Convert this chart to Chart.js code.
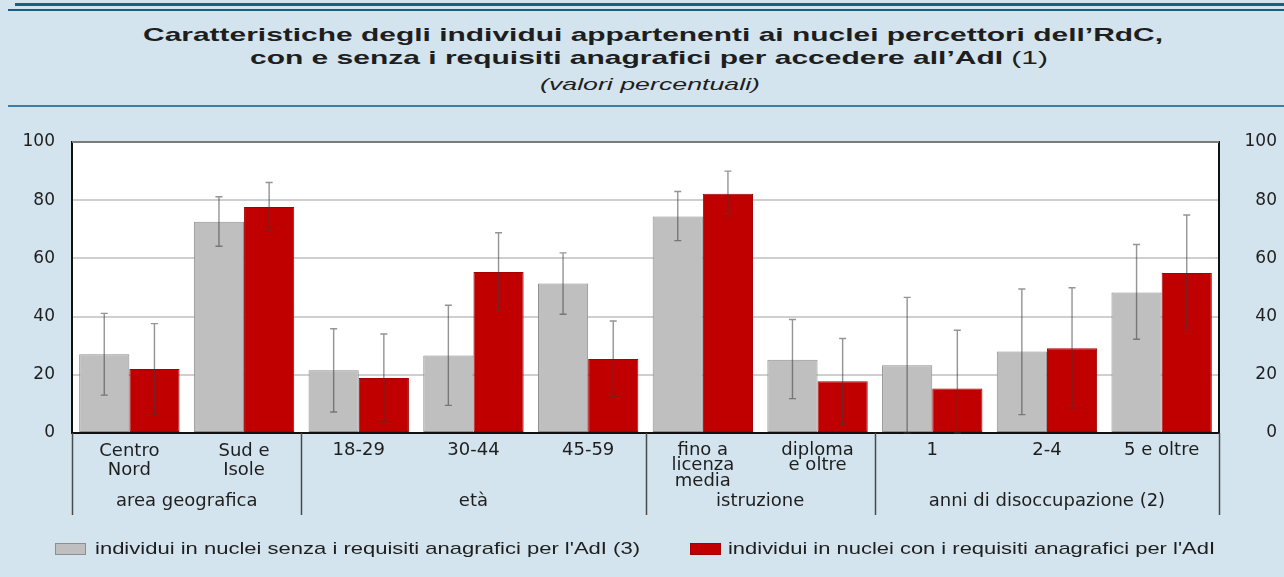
<!DOCTYPE html>
<html><head><meta charset="utf-8">
<script src="https://cdn.jsdelivr.net/npm/chart.js@4.4.1/dist/chart.umd.min.js"></script>
<style>
html,body{margin:0;padding:0;background:#d3e4ee;width:1284px;height:577px;overflow:hidden;font-family:"Liberation Sans",Arial,sans-serif;color:#1e1e1e}
#wrap{position:relative;width:1284px;height:577px}
.rule{position:absolute;right:0}
.fit{position:absolute;white-space:nowrap;transform-origin:0 0}
canvas{position:absolute;left:0;top:0}
.box{position:absolute;top:543px;width:29px;height:10px}
</style></head>
<body><div id="wrap">
<div class="rule" style="left:15px;top:3px;height:3px;background:#1b5e84"></div>
<div class="rule" style="left:8px;top:9px;height:2px;background:#1b5e84"></div>
<div class="rule" style="left:8px;top:105px;height:2px;background:#3c7fa2"></div>
<div class="fit" data-left="143" data-w="1020" style="top:24px;font-size:19px;line-height:22px;font-weight:bold">Caratteristiche degli individui appartenenti ai nuclei percettori dell’RdC,</div>
<div class="fit" data-left="250" data-w="798" style="top:47px;font-size:19px;line-height:22px"><b>con e senza i requisiti anagrafici per accedere all’AdI</b> (1)</div>
<div class="fit" data-left="540" data-w="220" style="top:75px;font-size:17px;line-height:20px;font-style:italic">(valori percentuali)</div>
<canvas id="c" width="1284" height="577"></canvas>
<div class="box" id="b0" style="left:55px"></div><div class="fit" id="l0" data-left="95" data-w="545" style="top:539px;font-size:17px;line-height:19px"></div>
<div class="box" id="b1" style="left:690px"></div><div class="fit" id="l1" data-left="728" data-w="487" style="top:539px;font-size:17px;line-height:19px"></div>
</div>
<script>
const categories = [["Centro","Nord"],["Sud e","Isole"],"18-29","30-44","45-59",["fino a","licenza","media"],["diploma","e oltre"],"1","2-4","5 e oltre"];
const groupLabels = ["area geografica","età","istruzione","anni di disoccupazione (2)"];
const groupSizes = [2,3,2,3];
const seriesNames = ["individui in nuclei senza i requisiti anagrafici per l'AdI (3)","individui in nuclei con i requisiti anagrafici per l'AdI"];
const withoutReq     = [27.1,72.6,21.6,26.6,51.4,74.4,25.2,23.3,28.0,48.3];
const withoutReqLow  = [13.0,64.2, 7.2, 9.5,40.8,66.1,11.8, 0.0, 6.3,32.2];
const withoutReqHigh = [41.1,81.2,35.8,43.9,61.9,83.0,39.0,46.6,49.5,64.8];
const withReq        = [22.0,77.7,18.9,55.3,25.4,82.2,17.8,15.3,29.1,55.0];
const withReqLow     = [ 6.3,69.4, 3.8,41.8,12.5,74.7, 2.9, 0.0, 8.7,35.6];
const withReqHigh    = [37.6,86.1,34.0,68.8,38.5,90.0,32.5,35.3,49.9,74.9];
const yTicks = [0,20,40,60,80,100];

const GREY='#bfbfbf', GREY_B='#8e8e8e', RED='#c00000', RED_B='#a30000';
const FAM = '"DejaVu Sans", sans-serif';
const TXT = '#1e1e1e';

const lowHigh = [[withoutReqLow,withoutReqHigh],[withReqLow,withReqHigh]];

const plotBg = {id:'plotBg', beforeDraw(ch){const a=ch.chartArea,c=ch.ctx;c.save();c.fillStyle='#fff';c.fillRect(a.left,a.top,a.right-a.left,a.bottom-a.top);c.restore();}};
const errBars = {id:'errBars', afterDatasetsDraw(ch){
  const c=ch.ctx, y=ch.scales.y;
  c.save(); c.strokeStyle='rgba(60,60,60,0.55)'; c.lineWidth=1.4;
  ch.data.datasets.forEach((ds,i)=>{
    const meta=ch.getDatasetMeta(i); const [lo,hi]=lowHigh[i];
    meta.data.forEach((bar,j)=>{
      const x=bar.x, y1=y.getPixelForValue(hi[j]), y0=y.getPixelForValue(lo[j]);
      c.beginPath(); c.moveTo(x,y1); c.lineTo(x,y0);
      c.moveTo(x-3.5,y1); c.lineTo(x+3.5,y1);
      c.moveTo(x-3.5,y0); c.lineTo(x+3.5,y0); c.stroke();
    });
  });
  c.restore();
}};
const frame = {id:'frame', afterDraw(ch){
  const c=ch.ctx,a=ch.chartArea,xs=ch.scales.x;
  c.save();
  c.strokeStyle='#7a7a7a'; c.lineWidth=2; c.beginPath(); c.moveTo(a.left,a.top); c.lineTo(a.right,a.top); c.stroke();
  const bounds=[a.left]; let k=0;
  groupSizes.forEach(n=>{k+=n; if(k<categories.length){bounds.push((xs.getPixelForValue(k-1)+xs.getPixelForValue(k))/2);} else bounds.push(a.right);});
  c.strokeStyle='#4a4a4a'; c.lineWidth=1.5;
  bounds.forEach(b=>{const bx=Math.round(b)+0.5; c.beginPath(); c.moveTo(bx,a.bottom); c.lineTo(bx,a.bottom+82); c.stroke();});
  c.fillStyle=TXT; c.font='18px '+FAM; c.textAlign='center'; c.textBaseline='middle';
  groupLabels.forEach((g,i)=>{c.fillText(g,(bounds[i]+bounds[i+1])/2,a.bottom+68);});
  c.restore();
}};

new Chart(document.getElementById('c'),{
  type:'bar',
  data:{labels:categories, datasets:[
    {label:seriesNames[0], data:withoutReq, backgroundColor:GREY, borderColor:GREY_B, borderWidth:1, borderSkipped:false, barPercentage:1, categoryPercentage:0.875},
    {label:seriesNames[1], data:withReq, backgroundColor:RED, borderColor:RED_B, borderWidth:1, borderSkipped:false, barPercentage:1, categoryPercentage:0.875}
  ]},
  options:{
    responsive:false, animation:false, devicePixelRatio:1,
    layout:{padding:{left:0,right:7,top:142,bottom:0}},
    plugins:{legend:{display:false},title:{display:false},tooltip:{enabled:false}},
    scales:{
      x:{grid:{display:false,drawTicks:false}, border:{display:true,color:'#111',width:2},
         ticks:{font:(ctx)=>({family:FAM,size:18,lineHeight:(ctx.index<2?1.05:0.87)}),color:TXT,padding:9,maxRotation:0,autoSkip:false},
         afterFit(s){s.height=144;}},
      y:{position:'left',min:0,max:100,afterBuildTicks(s){s.ticks=yTicks.map(v=>({value:v}));},
         grid:{drawTicks:false,lineWidth:2,color:(ctx)=>(ctx.tick&&(ctx.tick.value===0||ctx.tick.value===100))?'rgba(0,0,0,0)':'#cfcfcf'},
         border:{display:true,color:'#111',width:2},
         ticks:{font:{family:FAM,size:17},color:TXT,padding:17},
         afterFit(s){s.width=72;}},
      y2:{position:'right',min:0,max:100,afterBuildTicks(s){s.ticks=yTicks.map(v=>({value:v}));},
         grid:{display:false,drawTicks:false},border:{display:true,color:'#111',width:2},
         ticks:{font:{family:FAM,size:17},color:TXT,padding:20,crossAlign:'far'},
         afterFit(s){s.width=58;}}
    }
  },
  plugins:[plotBg,errBars,frame]
});

document.getElementById('b0').style.cssText+=`background:${GREY};border:1px solid ${GREY_B}`;
document.getElementById('b1').style.cssText+=`background:${RED};border:1px solid ${RED_B}`;
document.getElementById('l0').textContent=seriesNames[0];
document.getElementById('l1').textContent=seriesNames[1];
document.querySelectorAll('.fit').forEach(el=>{
  const w=el.getBoundingClientRect().width;
  el.style.left=el.dataset.left+'px';
  el.style.transform=`scaleX(${(+el.dataset.w)/w})`;
});
</script>
</body></html>
